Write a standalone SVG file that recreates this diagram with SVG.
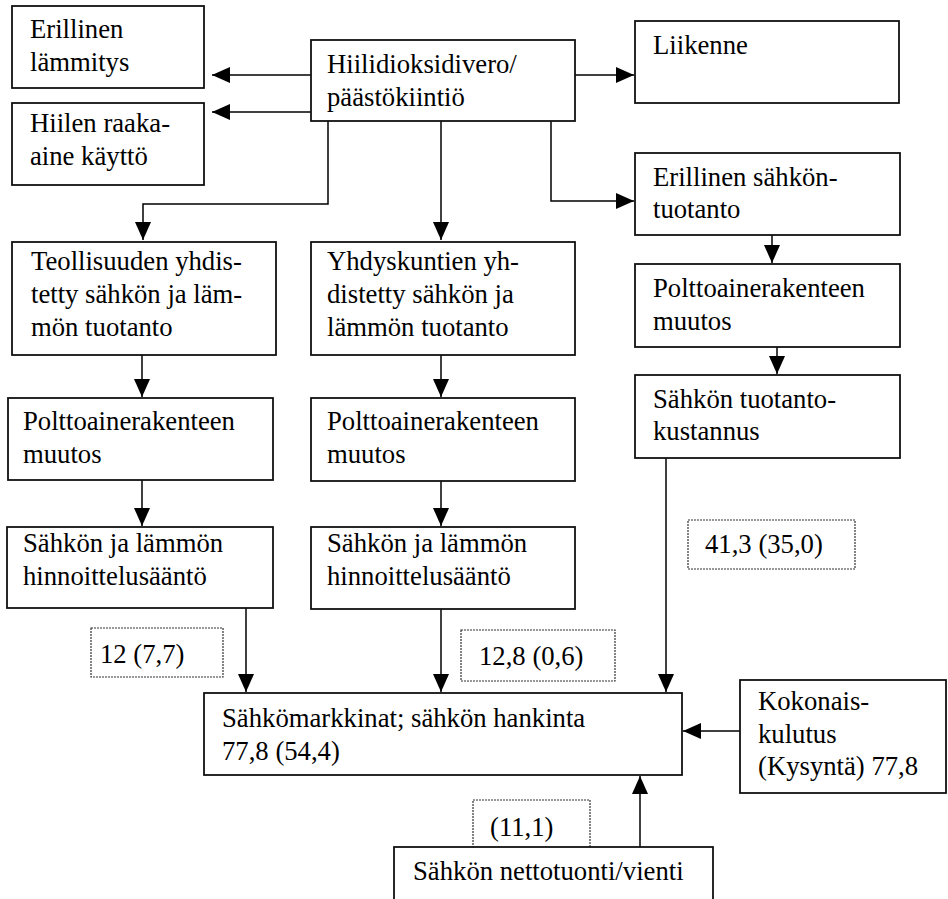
<svg xmlns="http://www.w3.org/2000/svg" width="948" height="899" viewBox="0 0 948 899">
<defs>
<marker id="ah" markerUnits="userSpaceOnUse" markerWidth="18" markerHeight="16" refX="18" refY="8" orient="auto">
<path d="M0,0 L18,8 L0,16 z" fill="#000"/>
</marker>
<style>
.box{fill:#fff;stroke:#111;stroke-width:1.8}
.lbl{fill:#fff;stroke:#333;stroke-width:1.2;stroke-dasharray:2 1}
.t{font-family:"Liberation Serif","Times New Roman",serif;font-size:26.7px;fill:#000}
.c{fill:none;stroke:#000;stroke-width:1.5}
.a{marker-end:url(#ah)}
</style>
</defs>
<rect width="948" height="899" fill="#fff"/>

<g id="connectors">
<path class="c a" d="M311,75 H212"/>
<path class="c a" d="M311,112 H212"/>
<path class="c a" d="M575,75 H634"/>
<path class="c a" d="M328,121 V204 H143 V240"/>
<path class="c a" d="M441,121 V240"/>
<path class="c a" d="M551,121 V201 H634"/>
<path class="c a" d="M772,235 V263"/>
<path class="c a" d="M777,347 V374"/>
<path class="c a" d="M142,355 V397"/>
<path class="c a" d="M142,480 V526"/>
<path class="c a" d="M246,608 V692"/>
<path class="c a" d="M441,355 V397"/>
<path class="c a" d="M441,481 V526"/>
<path class="c a" d="M441,609 V692"/>
<path class="c a" d="M666,458 V692"/>
<path class="c a" d="M740,731 H683"/>
<path class="c a" d="M640,847 V776"/>
</g>

<g id="n-erillinen-lammitys">
<rect class="box" x="12" y="6" width="192" height="82"/>
<text class="t" x="30" y="38">Erillinen</text>
<text class="t" x="30" y="71">lämmitys</text>
</g>
<g id="n-hiilen-raaka-aine">
<rect class="box" x="12" y="103" width="192" height="82"/>
<text class="t" x="30" y="132">Hiilen raaka-</text>
<text class="t" x="30" y="165">aine käyttö</text>
</g>
<g id="n-hiilidioksidivero">
<rect class="box" x="311" y="40" width="264" height="81"/>
<text class="t" x="327" y="73">Hiilidioksidivero/</text>
<text class="t" x="327" y="106">päästökiintiö</text>
</g>
<g id="n-liikenne">
<rect class="box" x="635" y="21" width="264" height="82"/>
<text class="t" x="653" y="54">Liikenne</text>
</g>
<g id="n-erillinen-sahkontuotanto">
<rect class="box" x="635" y="153" width="265" height="82"/>
<text class="t" x="653" y="186">Erillinen sähkön-</text>
<text class="t" x="653" y="218">tuotanto</text>
</g>
<g id="n-polttoaine-r">
<rect class="box" x="635" y="264" width="265" height="83"/>
<text class="t" x="653" y="297">Polttoainerakenteen</text>
<text class="t" x="653" y="330">muutos</text>
</g>
<g id="n-tuotantokustannus">
<rect class="box" x="635" y="375" width="265" height="83"/>
<text class="t" x="653" y="408">Sähkön tuotanto-</text>
<text class="t" x="653" y="440">kustannus</text>
</g>
<g id="n-teollisuuden">
<rect class="box" x="12" y="242" width="264" height="113"/>
<text class="t" x="31" y="270">Teollisuuden yhdis-</text>
<text class="t" x="31" y="303">tetty sähkön ja läm-</text>
<text class="t" x="31" y="336">mön tuotanto</text>
</g>
<g id="n-yhdyskuntien">
<rect class="box" x="311" y="242" width="264" height="113"/>
<text class="t" x="327" y="270">Yhdyskuntien yh-</text>
<text class="t" x="327" y="303">distetty sähkön ja</text>
<text class="t" x="327" y="336">lämmön tuotanto</text>
</g>
<g id="n-polttoaine-l">
<rect class="box" x="8" y="398" width="265" height="82"/>
<text class="t" x="23" y="430">Polttoainerakenteen</text>
<text class="t" x="23" y="463">muutos</text>
</g>
<g id="n-polttoaine-m">
<rect class="box" x="311" y="398" width="264" height="83"/>
<text class="t" x="327" y="430">Polttoainerakenteen</text>
<text class="t" x="327" y="463">muutos</text>
</g>
<g id="n-hinnoittelu-l">
<rect class="box" x="7" y="527" width="266" height="81"/>
<text class="t" x="23" y="552">Sähkön ja lämmön</text>
<text class="t" x="23" y="585">hinnoittelusääntö</text>
</g>
<g id="n-hinnoittelu-m">
<rect class="box" x="311" y="527" width="264" height="82"/>
<text class="t" x="327" y="552">Sähkön ja lämmön</text>
<text class="t" x="327" y="585">hinnoittelusääntö</text>
</g>
<g id="l-12">
<rect class="lbl" x="91" y="628" width="132" height="49"/>
<text class="t" x="100" y="663">12 (7,7)</text>
</g>
<g id="l-128">
<rect class="lbl" x="461" y="630" width="154" height="51"/>
<text class="t" x="479" y="665">12,8 (0,6)</text>
</g>
<g id="l-413">
<rect class="lbl" x="688" y="520" width="167" height="49"/>
<text class="t" x="705" y="553">41,3 (35,0)</text>
</g>
<g id="n-sahkomarkkinat">
<rect class="box" x="204" y="693" width="478" height="82"/>
<text class="t" x="222" y="727">Sähkömarkkinat; sähkön hankinta</text>
<text class="t" x="222" y="760">77,8 (54,4)</text>
</g>
<g id="n-kokonaiskulutus">
<rect class="box" x="740" y="680" width="206" height="113"/>
<text class="t" x="758" y="710">Kokonais-</text>
<text class="t" x="758" y="743">kulutus</text>
<text class="t" x="758" y="775">(Kysyntä) 77,8</text>
</g>
<g id="l-111">
<rect class="lbl" x="473" y="800" width="117" height="51"/>
<text class="t" x="490" y="836">(11,1)</text>
</g>
<g id="n-nettotuonti">
<rect class="box" x="394" y="847" width="319" height="70"/>
<text class="t" x="413" y="880">Sähkön nettotuonti/vienti</text>
</g>
</svg>
